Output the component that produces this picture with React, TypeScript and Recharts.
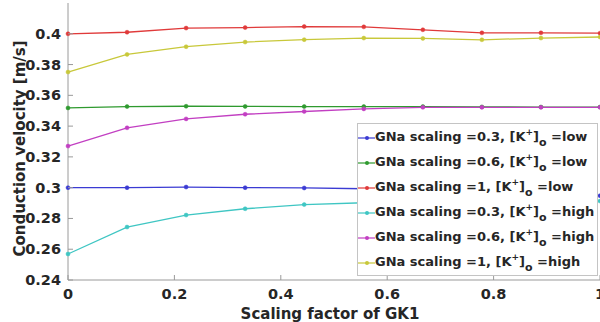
import { Legend, Line, LineChart, XAxis, YAxis } from 'recharts'

const scalingGK1 = [0, 0.111, 0.222, 0.333, 0.444, 0.556, 0.667, 0.778, 0.889, 1]

const gna03Low = [0.3, 0.3, 0.3004, 0.3, 0.2998, 0.2993, 0.2985, 0.2975, 0.296, 0.2948]
const gna06Low = [0.3518, 0.3527, 0.3529, 0.3528, 0.3527, 0.3527, 0.3527, 0.3525, 0.3524, 0.3524]
const gna1Low = [0.4, 0.401, 0.4037, 0.404, 0.4047, 0.4045, 0.4026, 0.4006, 0.4006, 0.4004]
const gna03High = [0.2569, 0.2744, 0.2822, 0.2863, 0.289, 0.2902, 0.2907, 0.291, 0.2912, 0.2913]
const gna06High = [0.327, 0.3389, 0.3447, 0.3477, 0.3495, 0.3512, 0.3522, 0.3522, 0.3522, 0.3522]
const gna1High = [0.3751, 0.3866, 0.3916, 0.3946, 0.3962, 0.3972, 0.397, 0.3961, 0.3972, 0.3979]

const xTicks = [0, 0.2, 0.4, 0.6, 0.8, 1]
const yTicks = [0.24, 0.26, 0.28, 0.3, 0.32, 0.34, 0.36, 0.38, 0.4]

const series = [
  { key: 'gna03Low', values: gna03Low, gna: '0.3', k: 'low', color: '#3b3bd3' },
  { key: 'gna06Low', values: gna06Low, gna: '0.6', k: 'low', color: '#2f9a2f' },
  { key: 'gna1Low', values: gna1Low, gna: '1', k: 'low', color: '#e03a3a' },
  { key: 'gna03High', values: gna03High, gna: '0.3', k: 'high', color: '#3fc6c3' },
  { key: 'gna06High', values: gna06High, gna: '0.6', k: 'high', color: '#c23fc2' },
  { key: 'gna1High', values: gna1High, gna: '1', k: 'high', color: '#c8c83a' },
]

const data = scalingGK1.map((x, i) => {
  const row: Record<string, number> = { x }
  series.forEach((s) => {
    row[s.key] = s.values[i]
  })
  return row
})

const FONT = '"DejaVu Sans", sans-serif'
const TEXT = '#262626'
const AXIS = '#9a9a9a'

const XTick = ({ x, y, payload }: any) => (
  <g>
    <line x1={x} y1={y} x2={x} y2={y - 5} stroke={AXIS} />
    <text x={x} y={y + 19} textAnchor="middle" fill={TEXT} fontSize={14.5} fontWeight="bold" fontFamily={FONT}>
      {String(payload.value)}
    </text>
  </g>
)

const YTick = ({ x, y, payload }: any) => (
  <g>
    <line x1={x} y1={y} x2={x + 5} y2={y} stroke={AXIS} />
    <text x={x - 7} y={y + 5} textAnchor="end" fill={TEXT} fontSize={14.5} fontWeight="bold" fontFamily={FONT}>
      {String(payload.value)}
    </text>
  </g>
)

const LegendBox = () => (
  <div
    style={{
      background: '#fff',
      border: '1px solid #c4c4c4',
      boxSizing: 'border-box',
      width: '100%',
      height: '100%',
      padding: '1px 0 0 0',
      fontFamily: FONT,
      fontWeight: 'bold',
      fontSize: 13,
      color: TEXT,
    }}
  >
    {series.map((s) => (
      <div key={s.key} style={{ height: 25, display: 'flex', alignItems: 'center', whiteSpace: 'nowrap' }}>
        <svg width={17} height={10} style={{ flexShrink: 0 }}>
          <line x1={0} y1={5} x2={17} y2={5} stroke={s.color} strokeWidth={1.2} />
          <circle cx={9} cy={5} r={2} fill={s.color} />
        </svg>
        <span style={{ lineHeight: '13px' }}>
          GNa scaling ={s.gna}, [K
          <span style={{ fontSize: 9, position: 'relative', top: -6 }}>+</span>]
          <span style={{ fontSize: 11, position: 'relative', top: 5 }}>o</span> ={s.k}
        </span>
      </div>
    ))}
  </div>
)

const App = () => (
  <div style={{ position: 'absolute', left: 0, top: 0, width: 600, height: 322, overflow: 'hidden', background: '#fff' }}>
    <LineChart width={620} height={322} data={data} margin={{ top: 3, right: 20, bottom: 12, left: 0 }}>
      <XAxis
        dataKey="x"
        type="number"
        domain={[0, 1]}
        ticks={xTicks}
        tick={<XTick />}
        tickLine={false}
        tickSize={0}
        tickMargin={0}
        height={30}
        stroke={AXIS}
        interval={0}
        label={{
          value: 'Scaling factor of GK1',
          position: 'insideBottom',
          offset: -9,
          fill: TEXT,
          fontSize: 15,
          fontWeight: 'bold',
          fontFamily: FONT,
          dx: -4,
        }}
      />
      <YAxis
        type="number"
        domain={[0.24, 0.42]}
        ticks={yTicks}
        tick={<YTick />}
        tickLine={false}
        tickSize={0}
        tickMargin={0}
        width={68}
        stroke={AXIS}
        interval={0}
        label={{
          value: 'Conduction velocity [m/s]',
          angle: -90,
          position: 'center',
          dx: -14,
          dy: 7,
          fill: TEXT,
          fontSize: 15,
          fontWeight: 'bold',
          fontFamily: FONT,
        }}
      />
      {series.map((s) => (
        <Line
          key={s.key}
          dataKey={s.key}
          stroke={s.color}
          strokeWidth={1.3}
          dot={{ r: 2, fill: s.color, stroke: s.color, strokeWidth: 0.5 }}
          isAnimationActive={false}
        />
      ))}
      <Legend
        layout="vertical"
        align="center"
        verticalAlign="middle"
        content={<LegendBox />}
        wrapperStyle={{ left: 357, top: 123, width: 241, height: 153 }}
      />
    </LineChart>
  </div>
)

export default App
